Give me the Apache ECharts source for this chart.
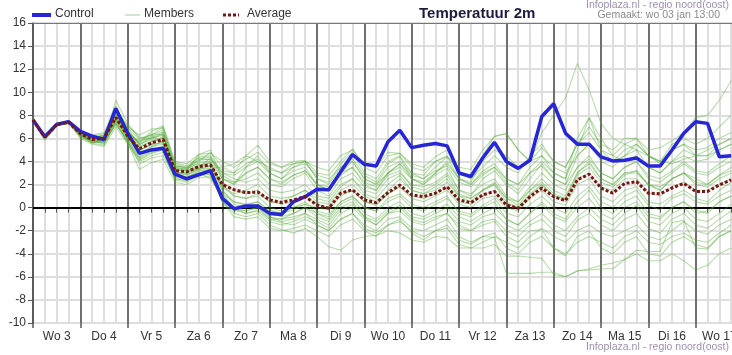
<!DOCTYPE html>
<html><head><meta charset="utf-8">
<script src="https://cdn.jsdelivr.net/npm/echarts@6/dist/echarts.min.js"></script>
<style>html,body{margin:0;padding:0;background:#fff}#c{width:732px;height:355px}</style>
</head><body><div id="c"></div>
<script>
// Day labels (each day = 4 steps of 6 hours, label centered in the day)
const dayLabels = ['Wo 3','Do 4','Vr 5','Za 6','Zo 7','Ma 8','Di 9','Wo 10','Do 11','Vr 12','Za 13','Zo 14','Ma 15','Di 16','Wo 17'];
const yTicks = [-10,-8,-6,-4,-2,0,2,4,6,8,10,12,14,16];

const control = [7.6,6.15,7.2,7.45,6.6,6.2,5.9,8.6,6.45,4.7,5.0,5.15,2.9,2.5,2.85,3.2,
  0.8,-0.1,0.15,0.15,-0.5,-0.6,0.5,0.95,1.6,1.55,3.1,4.6,3.75,3.6,5.7,6.7,
  5.2,5.4,5.55,5.35,3.0,2.7,4.3,5.65,4.0,3.4,4.1,7.9,9.0,6.45,5.5,5.5,
  4.4,4.05,4.1,4.3,3.6,3.6,5.0,6.45,7.45,7.3,4.4,4.5];

const average = [7.6,6.1,7.2,7.4,6.4,5.9,6.0,7.8,6.2,5.1,5.6,5.9,3.2,3.1,3.55,3.7,
  2.0,1.55,1.3,1.35,0.67,0.45,0.67,0.95,0.23,-0.05,1.25,1.55,0.67,0.43,1.3,1.95,
  1.1,0.95,1.25,1.8,0.67,0.43,1.1,1.4,0.23,-0.05,0.95,1.7,0.95,0.6,2.4,2.9,
  1.7,1.25,2.1,2.25,1.25,1.2,1.7,2.1,1.4,1.4,1.97,2.4];

const member01 = [7.7,6.0,7.3,7.5,6.2,5.6,5.8,9.3,7.3,6.0,6.3,7.0,3.8,3.5,4.0,4.8,
  3.5,3.0,4.5,5.4,4.0,3.5,4.0,4.1,3.0,2.8,4.0,5.1,3.5,3.0,4.5,4.7,
  3.8,3.5,4.4,5.0,3.0,2.6,4.5,6.2,6.4,5.0,4.0,6.5,8.0,9.5,12.5,10.2,
  7.3,6.0,5.5,5.0,4.5,4.0,3.8,4.2,4.5,5.0,5.5,6.0];
const member02 = [7.5,5.8,7.1,7.3,6.3,6.2,6.4,8.2,6.8,5.4,6.1,6.6,3.5,3.3,4.2,4.4,
  2.5,2.0,3.5,4.0,3.0,2.5,3.2,3.5,2.0,1.5,3.0,4.0,2.5,2.0,3.5,4.0,
  3.0,2.5,3.5,4.4,2.5,2.0,3.2,3.8,2.5,2.0,3.5,4.5,3.0,2.5,6.0,7.8,
  5.0,4.5,5.5,6.0,5.0,5.2,5.8,6.5,7.8,8.0,9.3,11.0];
const member03 = [7.6,6.2,7.2,7.4,6.0,5.5,5.3,7.0,5.5,4.0,4.5,4.8,2.4,2.2,2.8,2.9,
  0.5,-0.5,-0.8,-0.5,-1.5,-1.9,-2.2,-1.8,-2.5,-3.4,-3.7,-2.8,-2.5,-2.4,-2.0,-2.2,
  -2.8,-3.0,-2.5,-2.6,-3.5,-3.5,-3.5,-3.2,-4.2,-4.2,-4.3,-4.4,-5.8,-6.0,-5.5,-5.4,
  -5.3,-5.3,-4.5,-3.7,-3.8,-3.8,-1.3,-1.1,-3.5,-3.6,-2.5,-2.0];
const member04 = [7.8,6.1,7.2,7.4,6.5,5.8,5.6,7.5,5.8,3.8,4.3,4.5,2.6,2.5,3.0,2.5,
  1.0,0.0,-0.3,0.0,-1.0,-1.3,-1.5,-1.0,-1.5,-2.0,-1.0,-0.5,-1.5,-2.0,-1.0,-0.8,
  -1.8,-2.0,-1.5,-1.0,-2.5,-3.0,-2.5,-2.6,-5.7,-5.7,-5.7,-5.6,-5.6,-6.0,-5.5,-5.3,
  -5.0,-4.8,-4.5,-4.0,-4.6,-4.6,-4.0,-4.6,-5.4,-5.0,-4.0,-3.5];
const member05 = [7.6,6.3,7.3,7.5,6.6,6.0,6.2,8.0,6.0,5.0,5.5,6.2,3.4,3.0,3.6,3.9,
  1.5,0.5,0.2,0.5,-0.5,-0.8,-0.5,0.0,-0.8,-1.2,0.0,0.5,-0.8,-1.5,-0.5,0.0,
  -1.0,-1.3,-0.8,-0.5,-1.8,-2.0,-1.5,-1.2,-2.5,-3.0,-2.0,-1.9,-3.5,-4.0,-3.0,-2.5,
  -3.0,-3.5,-2.5,-2.0,-3.0,-3.2,-2.5,-2.2,-2.8,-3.0,-2.2,-1.5];
const member06 = [7.7,6.0,7.2,7.4,6.4,5.7,5.9,7.6,6.3,5.8,6.0,6.5,3.0,3.1,3.4,3.7,
  2.0,1.0,0.8,1.0,0.0,-0.3,0.0,0.3,-0.5,-0.8,0.5,1.0,0.0,-0.3,0.8,1.2,
  0.3,0.0,0.5,1.0,-0.5,-0.8,0.0,0.5,-1.0,-1.5,-0.5,0.5,-0.5,-1.0,0.5,1.5,
  0.0,-0.5,0.5,1.0,-0.5,-0.8,0.0,0.5,-0.5,-0.3,0.5,1.0];
const member07 = [7.5,6.2,7.1,7.3,6.3,6.0,6.1,8.5,6.9,5.9,6.3,5.6,3.9,3.6,4.3,4.1,
  3.0,2.5,2.2,2.5,1.5,1.3,1.5,2.0,1.0,0.8,2.0,2.5,1.5,1.2,2.5,3.0,
  2.0,1.8,2.2,3.0,1.5,1.2,2.0,2.5,1.0,0.5,1.8,3.0,2.0,1.5,3.5,4.5,
  3.0,2.5,3.5,4.0,2.5,2.2,3.0,3.8,3.0,2.8,3.5,4.0];
const member08 = [7.6,6.1,7.3,7.4,6.2,5.9,5.7,7.2,5.9,4.4,5.1,5.3,2.8,2.7,3.2,3.3,
  1.5,0.3,0.0,0.2,-0.3,-0.5,-0.2,0.3,0.0,-0.2,1.0,1.5,0.5,0.2,1.2,1.8,
  0.8,0.5,1.0,1.5,0.3,0.0,0.8,1.0,0.0,-0.3,0.8,1.5,0.5,0.2,2.0,2.5,
  1.0,0.5,1.5,1.8,0.5,0.3,1.0,1.5,0.8,0.5,1.5,2.2];
const member09 = [7.7,6.2,7.2,7.5,6.5,6.3,6.5,8.8,6.5,5.3,5.8,6.0,3.6,3.4,3.8,3.5,
  3.5,3.8,4.5,4.0,3.5,3.0,3.8,4.0,3.5,3.2,4.5,5.0,3.8,3.5,4.8,4.7,
  3.5,3.2,4.0,4.4,3.5,3.3,5.0,6.15,6.45,5.0,4.0,4.5,3.5,3.0,4.5,5.5,
  4.5,4.0,5.0,5.5,4.5,4.0,5.0,5.5,5.0,5.2,6.0,6.5];
const member10 = [7.6,6.0,7.2,7.4,6.4,5.8,5.5,7.4,5.6,3.3,3.9,4.2,2.2,2.0,2.6,2.7,
  0.8,-0.2,-0.5,-0.3,-1.2,-1.5,-1.2,-0.8,-1.2,-1.8,-0.5,0.0,-1.0,-1.5,-0.5,-0.3,
  -1.2,-1.5,-1.0,-0.5,-1.5,-2.0,-1.2,-1.0,-2.0,-2.5,-1.5,-1.0,-2.0,-2.5,-1.1,-0.5,
  -1.5,-2.0,-1.0,-0.5,-1.8,-2.2,-1.0,-0.5,-1.5,-1.8,-1.0,-0.3];
const member11 = [7.8,6.1,7.3,7.5,6.6,6.1,6.3,8.1,6.6,5.6,6.6,7.1,4.0,3.8,4.6,5.0,
  2.5,2.0,3.0,3.5,2.5,2.0,2.8,3.2,2.0,1.5,2.8,3.5,2.0,1.5,3.0,3.5,
  2.5,2.0,3.0,3.8,2.5,2.0,3.0,3.5,2.5,2.0,3.0,4.0,3.0,2.5,5.0,7.8,
  6.0,4.5,4.0,4.5,3.5,3.0,4.0,5.0,4.5,4.5,5.0,5.5];
const member12 = [7.5,6.1,7.2,7.3,6.3,5.6,5.9,7.9,6.1,4.8,5.2,5.8,3.1,2.9,3.3,3.6,
  2.2,1.5,1.2,1.5,0.5,0.3,0.5,1.0,0.3,0.0,1.2,1.5,0.5,0.3,1.2,1.8,
  1.0,0.8,1.2,1.8,0.5,0.3,1.0,1.5,0.3,0.0,1.0,2.0,1.0,0.5,2.5,3.0,
  1.8,1.5,2.5,2.5,1.3,1.0,1.8,2.2,1.5,1.5,2.0,2.5];
const member13 = [7.6,6.2,7.2,7.4,6.4,5.9,6.0,7.7,6.2,5.2,5.7,6.1,3.3,3.2,3.7,3.9,
  1.8,1.2,1.5,2.0,1.0,0.8,1.0,1.5,0.5,0.3,1.5,2.0,1.0,0.5,1.5,2.5,
  1.5,1.2,1.5,2.2,1.0,0.5,1.5,2.0,0.8,0.5,1.5,2.5,1.5,1.0,3.0,4.0,
  2.5,2.0,3.0,3.0,2.0,1.5,2.5,3.0,2.5,2.0,2.8,3.2];
const member14 = [7.7,6.1,7.1,7.4,6.5,6.0,5.8,8.3,6.4,4.6,5.3,5.5,2.9,2.6,3.1,3.0,
  1.2,0.0,-0.5,-0.2,-1.0,-1.0,-0.8,-0.5,-1.0,-1.5,-0.2,0.3,-0.8,-1.2,-0.3,0.2,
  -0.8,-1.0,-0.5,0.0,-1.2,-1.5,-0.8,-0.5,-1.5,-2.0,-1.2,-0.5,-1.5,-2.0,-0.8,0.0,
  -1.0,-1.5,-0.5,0.2,-1.2,-1.5,-0.5,0.0,-1.0,-1.2,-0.5,0.3];
const member15 = [7.6,6.0,7.2,7.4,6.3,6.1,6.2,8.0,6.7,5.5,6.2,6.8,3.7,3.4,4.4,4.5,
  3.0,2.8,3.5,4.5,3.0,2.5,3.5,4.0,2.5,2.2,3.8,4.8,3.0,2.5,4.0,4.5,
  3.0,2.8,4.0,4.5,3.0,2.5,3.5,4.5,3.5,3.0,4.5,5.5,4.0,3.5,5.5,7.0,
  5.5,5.0,6.0,6.0,4.5,4.0,5.5,6.0,5.5,6.0,7.0,8.0];
const member16 = [7.7,6.2,7.3,7.4,6.1,5.6,5.4,7.3,5.7,4.2,4.8,5.0,2.5,2.3,2.9,3.1,
  0.5,-0.8,-1.0,-0.8,-1.8,-2.0,-1.8,-1.5,-2.0,-2.5,-1.5,-1.0,-2.0,-2.5,-1.5,-1.2,
  -2.0,-2.5,-2.0,-1.5,-2.8,-3.2,-2.5,-2.2,-3.5,-4.0,-3.0,-2.5,-3.5,-4.2,-2.5,-2.0,
  -3.5,-4.0,-3.0,-2.5,-4.0,-4.2,-3.0,-2.5,-3.2,-3.5,-2.5,-2.0];
const member17 = [7.6,6.1,7.2,7.4,6.3,5.8,6.1,8.6,7.0,6.3,6.8,6.9,3.5,3.3,4.6,4.7,
  4.0,3.5,4.2,4.8,3.8,3.5,3.8,4.0,2.5,2.0,3.5,4.2,2.8,2.2,3.8,4.4,
  2.5,2.0,2.8,3.4,1.5,1.0,2.5,3.2,2.0,1.2,2.5,3.8,2.5,2.0,4.5,5.5,
  4.0,3.5,4.5,5.0,3.5,3.0,4.0,4.5,4.0,4.2,5.0,5.5];
const member18 = [7.5,6.0,7.2,7.3,6.4,6.0,5.9,7.8,6.5,5.7,6.4,6.3,3.3,3.2,3.5,4.3,
  2.8,2.2,2.5,3.0,2.0,1.8,2.5,3.0,1.5,1.0,2.5,3.0,1.8,1.5,2.8,3.2,
  1.8,1.5,2.0,2.8,1.2,0.8,1.5,2.2,0.8,0.2,1.5,2.2,1.2,0.8,2.8,3.5,
  2.2,1.8,2.8,3.2,2.0,1.5,2.5,3.0,2.2,2.0,2.8,3.5];
const member19 = [7.7,6.1,7.2,7.4,6.3,5.7,5.6,7.6,5.9,4.3,4.9,5.1,2.7,2.6,3.0,2.8,
  0.5,-0.3,-0.2,0.0,-0.8,-1.0,-0.5,0.0,-0.5,-1.0,0.3,0.8,-0.5,-1.0,0.0,0.5,
  -0.5,-0.8,-0.2,0.3,-0.8,-1.2,-0.5,0.0,-1.0,-1.5,-0.5,0.3,-0.8,-1.2,0.0,0.8,
  -0.5,-1.0,0.0,0.5,-0.8,-1.0,0.0,0.5,-0.2,-0.5,0.5,1.0];
const member20 = [7.6,6.2,7.3,7.4,6.5,6.1,6.2,8.2,6.3,5.0,5.4,5.7,3.0,2.9,3.4,3.4,
  1.8,1.0,0.8,1.2,0.5,0.5,1.0,1.5,0.8,0.5,1.8,2.5,1.2,0.8,2.0,2.8,
  1.5,1.2,1.8,2.5,1.0,0.8,1.5,2.0,0.5,0.0,1.2,2.0,1.0,0.8,3.0,3.8,
  2.5,2.0,3.0,3.2,2.0,1.8,2.5,3.0,2.0,1.8,2.5,3.0];
const member21 = [7.6,6.0,7.1,7.4,6.2,5.7,5.7,7.3,5.7,4.1,4.7,5.0,2.5,2.4,2.9,3.0,
  0.8,0.0,0.0,0.3,-0.8,-1.2,-1.0,-0.5,-1.5,-2.0,-1.0,-0.5,-1.8,-2.2,-1.5,-1.0,
  -2.2,-2.8,-2.0,-1.8,-3.2,-3.5,-3.0,-2.5,-3.0,-3.5,-2.5,-1.8,-2.5,-3.0,-2.0,-1.5,
  -2.2,-2.5,-2.0,-1.5,-2.5,-2.8,-2.0,-1.2,-2.0,-2.3,-1.5,-1.0];
const member22 = [7.7,6.1,7.2,7.5,6.4,6.0,6.3,8.4,7.1,6.1,6.0,6.3,3.6,3.5,4.1,4.2,
  3.2,3.0,3.8,4.2,3.3,3.0,3.5,3.8,2.8,2.5,3.5,4.0,2.5,2.0,3.0,3.8,
  2.8,2.5,3.2,3.6,2.2,1.8,2.8,3.5,2.2,1.5,3.0,3.6,2.5,2.0,3.5,4.2,
  3.0,2.5,3.5,4.0,2.8,2.5,3.2,4.0,3.2,3.0,3.8,4.5];
const member23 = [7.6,6.1,7.2,7.4,6.4,5.9,5.8,7.7,6.0,4.9,5.5,5.6,3.0,2.8,3.3,3.2,
  1.2,0.5,0.3,0.5,-0.2,-0.5,0.0,0.5,-0.3,-0.6,0.5,1.0,0.0,-0.3,0.5,1.0,
  0.0,-0.3,0.3,0.8,-0.3,-0.6,0.2,0.8,-0.5,-0.8,0.3,1.0,0.0,-0.5,1.0,1.8,
  0.5,0.0,1.0,1.5,0.2,-0.2,0.8,1.2,0.5,0.3,1.0,1.5];
const member24 = [7.5,6.2,7.2,7.4,6.5,6.2,6.0,8.0,6.6,5.5,5.9,6.4,3.4,3.3,3.9,4.0,
  2.5,2.2,3.0,3.5,2.5,2.2,2.8,3.2,2.0,1.8,3.0,3.5,2.2,1.8,3.0,3.8,
  2.5,2.2,3.0,4.0,2.5,2.2,4.0,5.0,4.5,3.5,4.0,5.2,4.0,3.5,5.5,6.5,
  5.0,4.0,4.5,5.5,4.5,3.8,5.0,5.5,4.5,4.5,5.5,6.0];
const members = [member01,member02,member03,member04,member05,member06,member07,member08,
  member09,member10,member11,member12,member13,member14,member15,member16,
  member17,member18,member19,member20,member21,member22,member23,member24];

const toXY = arr => arr.map((v, i) => [i, v]);

const chart = echarts.init(document.getElementById('c'), null, {renderer: 'canvas'});
const FONT = 'Liberation Sans, Arial, sans-serif';

const series = [];
members.forEach(m => {
  series.push({
    name: 'Members', type: 'line', data: toXY(m), showSymbol: false, symbol: 'none',
    lineStyle: {color: 'rgba(84,172,52,0.42)', width: 1.1}, silent: true, z: 3
  });
});
series.push({
  name: 'Control', type: 'line', data: toXY(control), showSymbol: false, symbol: 'none',
  lineStyle: {color: '#2626d6', width: 3.5}, z: 5,
  markLine: {silent: true, symbol: 'none', label: {show: false},
    lineStyle: {color: '#000', width: 2, type: 'solid'}, data: [{yAxis: 0}], z: 2}
});
series.push({
  name: 'Average', type: 'line', data: toXY(average), showSymbol: false, symbol: 'none',
  lineStyle: {color: '#781414', width: 3, type: [3, 2]}, z: 6
});

const option = {
  animation: false,
  backgroundColor: '#fff',
  grid: {left: 33, top: 23, width: 710, height: 300, containLabel: false, outerBoundsMode: 'none'},
  xAxis: [
    {type: 'value', min: 0, max: 60, interval: 1, position: 'bottom',
     axisLine: {show: true, lineStyle: {color: '#555', width: 1.5}},
     axisTick: {show: true, length: 5, lineStyle: {color: '#555', width: 1}},
     axisLabel: {show: true, margin: 8, color: '#333', fontFamily: FONT, fontSize: 12,
       formatter: v => (v % 4 === 2 ? dayLabels[(v - 2) / 4] : '')},
     splitLine: {show: true, lineStyle: {color: '#dedede', width: 2}}},
    {type: 'value', min: 0, max: 60, interval: 4, position: 'bottom',
     axisLine: {show: false},
     axisTick: {show: true, length: 5, lineStyle: {color: '#555', width: 1.5}},
     axisLabel: {show: false},
     splitLine: {show: true, lineStyle: {color: '#707070', width: 2}}},
    {type: 'value', min: 0, max: 60, interval: 4, position: 'top',
     axisLine: {show: true, lineStyle: {color: '#777', width: 1}},
     axisTick: {show: false}, axisLabel: {show: false}, splitLine: {show: false}}
  ],
  yAxis: {
    type: 'value', min: yTicks[0], max: yTicks[yTicks.length - 1], interval: 2,
    axisLine: {show: true, lineStyle: {color: '#555', width: 1.5}},
    axisTick: {show: true, length: 5, lineStyle: {color: '#555'}},
    axisLabel: {color: '#333', fontFamily: FONT, fontSize: 12, margin: 7},
    splitLine: {show: true, lineStyle: {color: '#dedede', width: 2}}
  },
  series: series,
  graphic: [
    {type: 'line', shape: {x1: 32, y1: 15, x2: 51, y2: 15}, style: {stroke: '#2626d6', lineWidth: 4}},
    {type: 'text', left: 55, top: 8, style: {text: 'Control', font: '12px ' + FONT, fill: '#333'}},
    {type: 'line', shape: {x1: 125, y1: 15, x2: 140, y2: 15}, style: {stroke: 'rgba(84,172,52,0.55)', lineWidth: 1}},
    {type: 'text', left: 144, top: 8, style: {text: 'Members', font: '12px ' + FONT, fill: '#333'}},
    {type: 'line', shape: {x1: 223, y1: 15, x2: 239, y2: 15}, style: {stroke: '#781414', lineWidth: 3, lineDash: [3, 2]}},
    {type: 'text', left: 247, top: 8, style: {text: 'Average', font: '12px ' + FONT, fill: '#333'}},
    {type: 'text', left: 419, top: 6, style: {text: 'Temperatuur 2m', font: 'bold 15px ' + FONT, fill: '#1c1c3c'}},
    {type: 'text', right: 3, top: 0, style: {text: 'Infoplaza.nl - regio noord(oost)', font: '10.5px ' + FONT, fill: '#a090b0', textAlign: 'right'}},
    {type: 'text', right: 12, top: 10, style: {text: 'Gemaakt: wo 03 jan 13:00', font: '10.5px ' + FONT, fill: '#8a8a8a', textAlign: 'right'}},
    {type: 'text', right: 3, top: 342, style: {text: 'Infoplaza.nl - regio noord(oost)', font: '10.5px ' + FONT, fill: '#a090b0', textAlign: 'right'}}
  ]
};
chart.setOption(option);
</script>
</body></html>
